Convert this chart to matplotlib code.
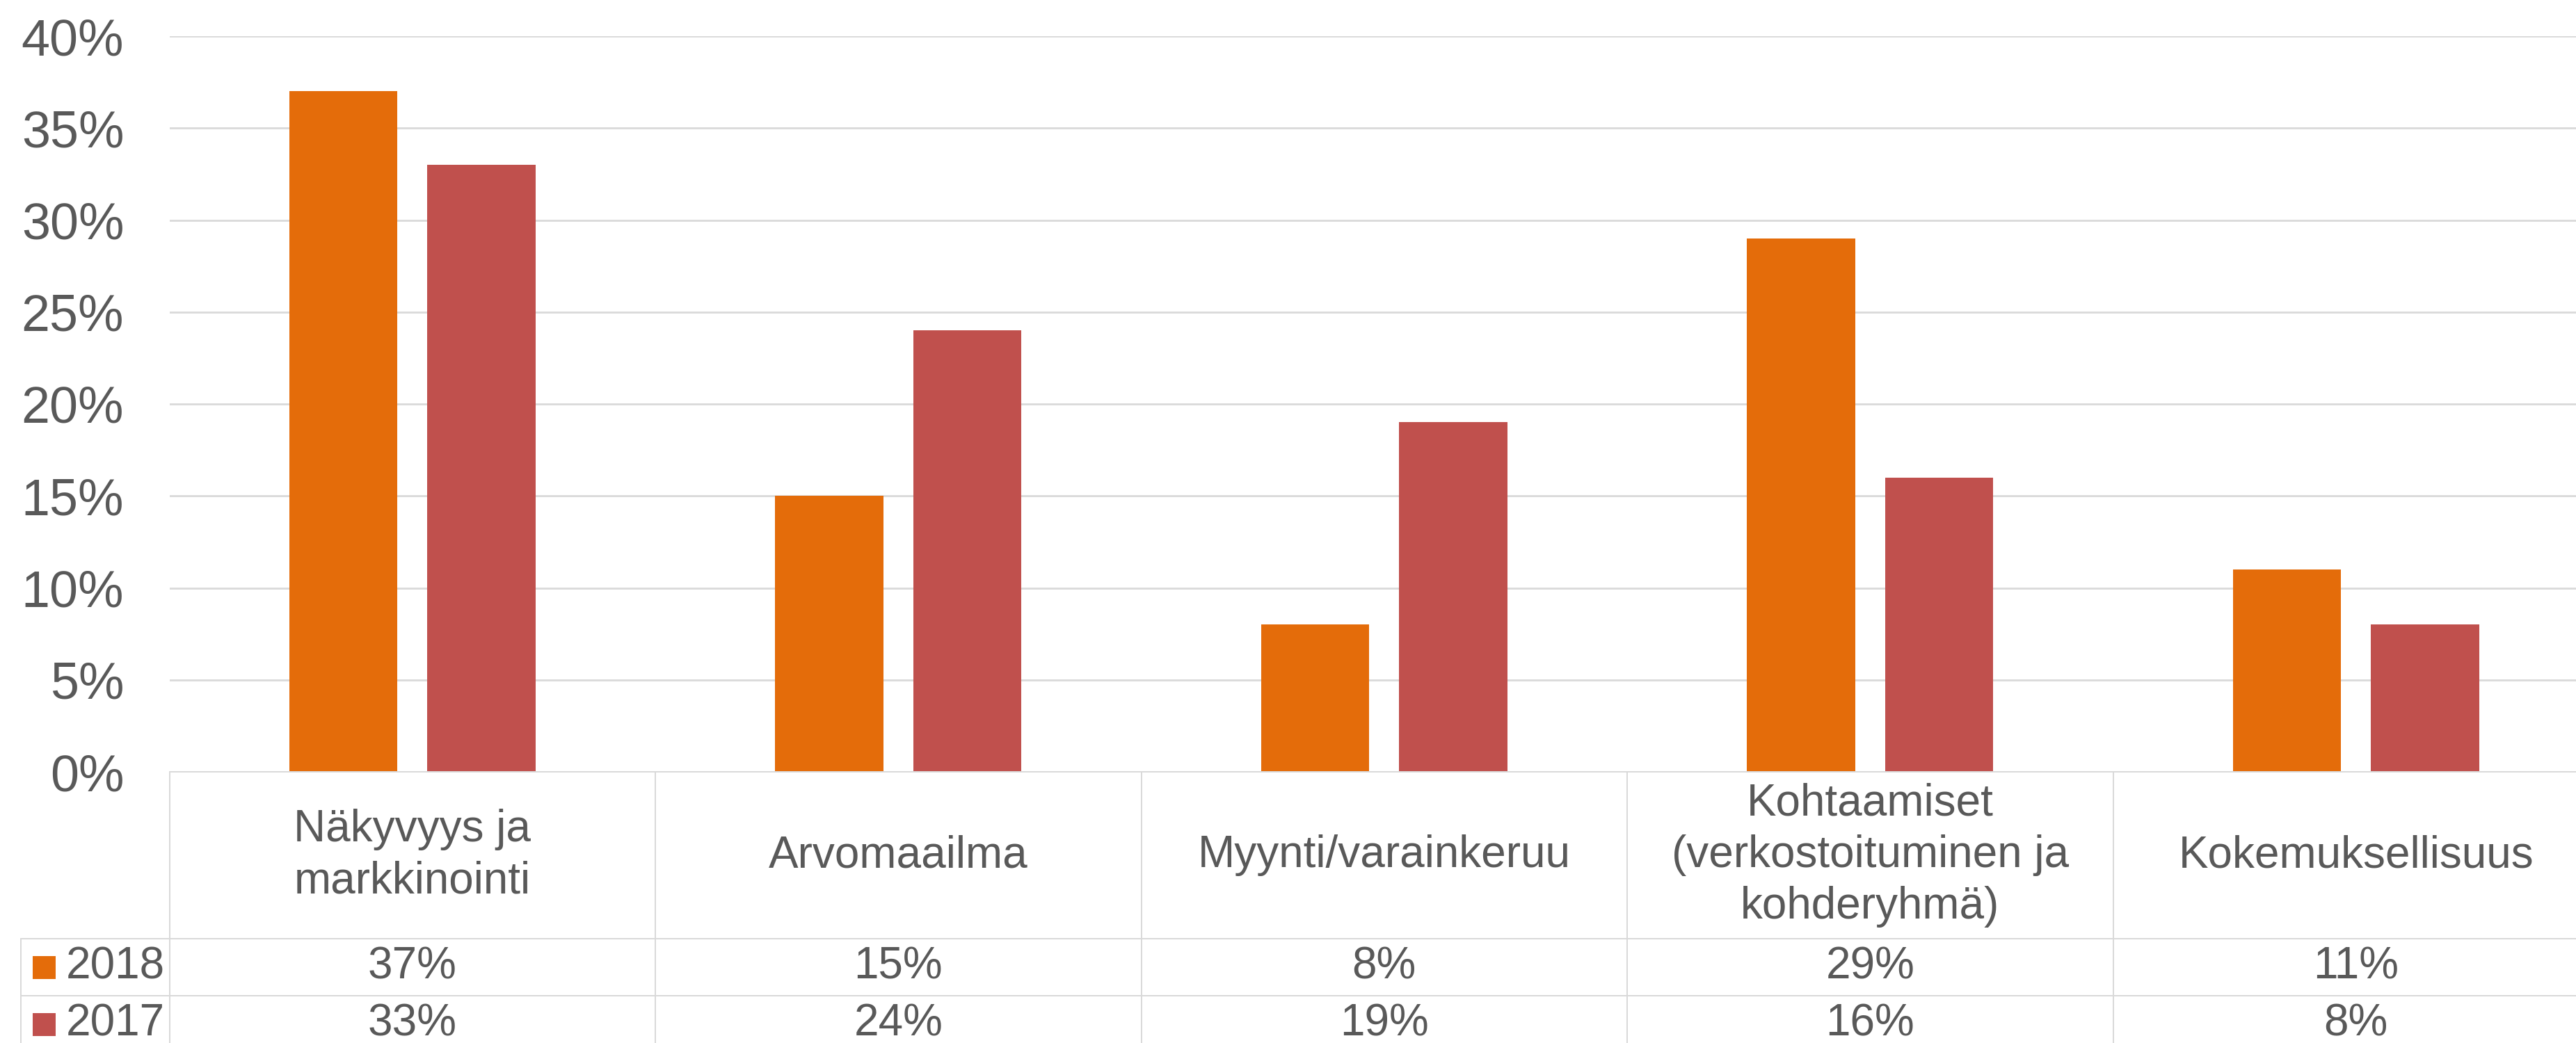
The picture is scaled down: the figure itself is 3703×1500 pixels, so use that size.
import matplotlib
matplotlib.use("Agg")
import matplotlib.pyplot as plt
from matplotlib.patches import Rectangle
from matplotlib.lines import Line2D
from matplotlib.transforms import blended_transform_factory

# ---- data ----
categories = ["Näkyvyys ja\nmarkkinointi", "Arvomaailma", "Myynti/varainkeruu",
              "Kohtaamiset\n(verkostoituminen ja\nkohderyhmä)", "Kokemuksellisuus"]
series_names = ["2018", "2017"]
values_2018 = [0.37, 0.15, 0.08, 0.29, 0.11]
values_2017 = [0.33, 0.24, 0.19, 0.16, 0.08]
y_ticks = [0.0, 0.05, 0.10, 0.15, 0.20, 0.25, 0.30, 0.35, 0.40]
y_tick_labels = ["0%", "5%", "10%", "15%", "20%", "25%", "30%", "35%", "40%"]

# ---- styling ----
ORANGE = "#E46C0A"
RED = "#C0504D"
GRID = "#D9D9D9"
TXT = "#595959"
FONT = ["Liberation Sans", "DejaVu Sans"]
plt.rcParams["font.family"] = FONT
TFS = 46

W, H = 3703, 1500
fig = plt.figure(figsize=(W / 100, H / 100), dpi=100)
fig.patch.set_facecolor("white")

left_px = 243.5
cat_w_px = 698.5
top_px = 52
axis_px = 1110
row1_px = 1350
row2_px = 1432

ax = fig.add_axes([left_px / W, (H - axis_px) / H, (W - left_px) / W, (axis_px - top_px) / H])
ax.set_xlim(-0.5, -0.5 + (W - left_px) / cat_w_px)
ax.set_ylim(0, 0.40)

offset = 0.142
bw = 0.223
x = list(range(len(categories)))
ax.bar([i - offset for i in x], values_2018, width=bw, color=ORANGE, zorder=3)
ax.bar([i + offset for i in x], values_2017, width=bw, color=RED, zorder=3)

ax.set_yticks(y_ticks)
ax.set_yticklabels(y_tick_labels)
ax.tick_params(axis="y", length=0, pad=47, labelsize=53, labelcolor=TXT)
ax.tick_params(axis="x", length=0, labelbottom=False)
ax.set_xticks([])
ax.yaxis.grid(True, color=GRID, linewidth=2, zorder=0)
ax.set_axisbelow(True)
for s in ax.spines.values():
    s.set_visible(False)

# ---- data table ----
def fy(px):
    return (H - px) / H

def fx(px):
    return px / W

bt = blended_transform_factory(ax.transData, fig.transFigure)
lw = 2

# horizontal lines
for y0, x0 in [(axis_px, left_px), (row1_px, 30), (row2_px, 30)]:
    fig.add_artist(Line2D([fx(x0), 1.0], [fy(y0), fy(y0)], color=GRID, lw=lw * 0.72,
                          transform=fig.transFigure))
# vertical lines
fig.add_artist(Line2D([fx(30), fx(30)], [fy(row1_px), 0], color=GRID, lw=lw * 0.72,
                      transform=fig.transFigure))
for i in range(len(categories)):
    xb = i - 0.5
    fig.add_artist(Line2D([xb, xb], [fy(axis_px), 0], color=GRID, lw=lw * 0.72,
                          transform=bt, clip_on=False))

# category labels and values
hdr_c = (axis_px + row1_px) / 2
r1_c = (row1_px + row2_px) / 2
r2_c = row2_px + (row2_px - row1_px) / 2
for i, c in enumerate(categories):
    fig.text(i, fy(hdr_c), c, transform=bt, ha="center", va="center", fontsize=TFS,
             color=TXT, linespacing=1.3, multialignment="center")
    fig.text(i, fy(r1_c), f"{round(values_2018[i] * 100)}%", transform=bt,
             ha="center", va="center", fontsize=TFS, color=TXT)
    fig.text(i, fy(r2_c), f"{round(values_2017[i] * 100)}%", transform=bt,
             ha="center", va="center", fontsize=TFS, color=TXT)

# legend keys in the table
for name, col, yc in [(series_names[0], ORANGE, r1_c), (series_names[1], RED, r2_c)]:
    sz = 33
    fig.add_artist(Rectangle((fx(47), fy(yc + sz / 2)), sz / W, sz / H, facecolor=col,
                             edgecolor="none", transform=fig.transFigure))
    fig.text(fx(95), fy(yc), name, ha="left", va="center", fontsize=TFS, color=TXT)

fig.savefig("out.png", dpi=100, facecolor="white")
